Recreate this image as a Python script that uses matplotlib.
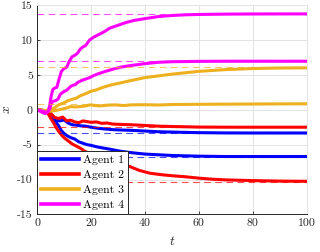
import numpy as np
import matplotlib
matplotlib.use("Agg")
import matplotlib.pyplot as plt

plt.rcParams['font.family'] = ['cmr10', 'DejaVu Serif']
plt.rcParams['mathtext.fontset'] = 'cm'
plt.rcParams['axes.unicode_minus'] = False

# agent 1 (blue)
t_a1_hi = [0, 2, 4, 5, 6, 7, 8.5, 10, 11.5, 13, 14.5, 16, 18, 20, 22.5, 25, 28, 31, 35, 40, 45, 50, 60, 70, 80, 90, 100]
x_a1_hi = [0, -0.1, -0.4, -0.7, -1.1, -1.5, -1.6, -1.45, -1.9, -2.15, -2.2, -2.3, -2.35, -2.5, -2.65, -2.75, -2.85, -2.9,
           -2.95, -3.05, -3.15, -3.2, -3.28, -3.32, -3.33, -3.33, -3.33]
t_a1_lo = [0, 2, 4, 5, 6, 7, 8, 9, 10, 11, 12.5, 14, 15.5, 17, 18.5, 20, 22, 24, 27, 31, 35, 40, 45, 50, 60, 70, 80, 90, 100]
x_a1_lo = [0, -0.1, -0.45, -0.8, -1.3, -1.8, -2.3, -3.0, -3.4, -3.7, -4.0, -4.2, -4.6, -4.8, -5.0, -5.1, -5.3, -5.45,
           -5.65, -5.95, -6.15, -6.35, -6.45, -6.55, -6.65, -6.7, -6.7, -6.7, -6.7]

# agent 2 (red)
t_a2_hi = [0, 2, 4, 5, 6.5, 8, 9.5, 11, 12.5, 14, 15.5, 17, 18.5, 20, 22, 24, 26, 28, 31, 35, 40, 45, 50, 60, 70, 80, 90, 100]
x_a2_hi = [0, -0.1, -0.3, -0.5, -1.1, -1.25, -1.05, -1.6, -1.5, -1.75, -1.85, -1.6, -1.7, -1.8, -1.75, -1.95, -1.9, -2.05,
           -2.1, -2.15, -2.25, -2.35, -2.4, -2.48, -2.5, -2.5, -2.5, -2.5]
t_a2_lo = [0, 2, 4, 5, 6, 7, 8, 9, 10, 11, 12, 13, 14.5, 16, 17.5, 19, 21, 24, 27, 31, 34.5, 38, 42, 46, 50, 55, 60, 65,
           70, 80, 90, 100]
x_a2_lo = [0, -0.1, -0.5, -1.2, -1.8, -2.5, -3.1, -3.6, -4.0, -4.3, -4.6, -4.9, -5.2, -5.5, -5.9, -6.2, -6.5, -6.9, -7.3,
           -7.8, -8.15, -8.7, -9.1, -9.3, -9.45, -9.6, -9.8, -9.95, -10.05, -10.15, -10.22, -10.25]

# agent 3 (orange)
t_a3_hi = [0, 3, 5, 6.5, 8, 10, 11.5, 13, 14.5, 16, 18, 20, 22, 24, 26, 28, 31, 35, 40, 45, 50, 55, 60, 70, 80, 90, 100]
x_a3_hi = [0, -0.1, 0, 0.3, 0.7, 1.0, 1.3, 1.5, 1.65, 2.0, 2.3, 2.65, 2.85, 3.15, 3.4, 3.6, 3.85, 4.2, 4.6, 4.85, 5.1,
           5.3, 5.5, 5.75, 5.9, 5.98, 6.0]
t_a3_lo = [0, 3, 5, 7, 8.7, 10.5, 12.3, 14, 16, 18, 19.7, 21.5, 23.4, 26, 29, 32, 35, 40, 45, 50, 60, 70, 80, 90, 100]
x_a3_lo = [0, -0.15, -0.2, -0.1, 0.05, 0.2, 0.45, 0.4, 0.45, 0.55, 0.7, 0.6, 0.55, 0.65, 0.7, 0.6, 0.7, 0.72, 0.68, 0.75,
           0.78, 0.8, 0.82, 0.84, 0.85]

# agent 4 (magenta)
t_a4_hi = [0, 1, 2, 3, 4, 4.6, 5.2, 5.8, 6.5, 7.3, 8, 9, 10, 11, 12, 13, 14, 15, 16, 17, 18, 19.5, 21, 23, 25, 27, 30, 33,
           36, 40, 45, 50, 55, 60, 70, 80, 90, 100]
x_a4_hi = [0, -0.2, -0.4, -0.55, -0.3, 0.5, 1.9, 2.9, 3.1, 3.2, 4.2, 5.5, 5.9, 6.1, 7.0, 7.6, 7.8, 8.1, 8.7, 9.0, 9.2, 10.0,
           10.4, 10.8, 11.2, 11.7, 12.1, 12.5, 12.8, 13.05, 13.35, 13.5, 13.6, 13.65, 13.7, 13.72, 13.73, 13.73]
t_a4_lo = [0, 2, 3.5, 4.6, 5.2, 5.8, 6.8, 7.7, 8.6, 9.5, 10.5, 11.3, 12.3, 13.2, 14.2, 15, 16.5, 18, 19.5, 21, 23, 25, 28,
           31, 35, 40, 45, 50, 60, 70, 80, 90, 100]
x_a4_lo = [0, -0.2, -0.4, 0, 0.8, 1.2, 1.3, 1.5, 2.2, 2.5, 2.7, 2.9, 3.3, 3.5, 3.6, 3.9, 4.2, 4.4, 4.6, 4.9, 5.2, 5.45,
           5.8, 6.1, 6.35, 6.6, 6.8, 6.88, 6.93, 6.95, 6.95, 6.95, 6.95]

# reference values (dashed)
ref_a1 = [-3.33, -6.7]
ref_a2 = [-2.43, -10.3]
ref_a3 = [6.14, 0.86]
ref_a4 = [13.7, 6.95]

labels = ['Agent 1', 'Agent 2', 'Agent 3', 'Agent 4']
colors = ['#0000ff', '#ff0000', '#edb120', '#ff00ff']

fig = plt.figure(figsize=(3.2, 2.52), dpi=100)
ax = fig.add_axes([0.116, 0.149, 0.842, 0.831])

curves = [(t_a1_hi, x_a1_hi, t_a1_lo, x_a1_lo),
          (t_a2_hi, x_a2_hi, t_a2_lo, x_a2_lo),
          (t_a3_hi, x_a3_hi, t_a3_lo, x_a3_lo),
          (t_a4_hi, x_a4_hi, t_a4_lo, x_a4_lo)]
refs = [ref_a1, ref_a2, ref_a3, ref_a4]

handles = []
for (th, xh, tl, xl), c, lab in zip(curves, colors, labels):
    h, = ax.plot(th, xh, color=c, lw=2.2, label=lab, solid_joinstyle='round')
    ax.plot(tl, xl, color=c, lw=2.2, solid_joinstyle='round')
    handles.append(h)

for r, c in zip(refs, colors):
    for v in r:
        ax.axhline(v, color=c, lw=0.8, ls=(0, (6, 4)), alpha=0.7)

ax.set_xlim(0, 100)
ax.set_ylim(-15, 15)
ax.set_xticks([0, 20, 40, 60, 80, 100])
ax.set_yticks([-15, -10, -5, 0, 5, 10, 15])
ax.grid(True, color='#e3e3e3', lw=0.7)
ax.set_axisbelow(True)
ax.tick_params(direction='in', length=2.5, width=0.6, labelsize=8.5, colors='#262626', pad=3)
for s in ['left', 'bottom']:
    ax.spines[s].set_color('#262626')
    ax.spines[s].set_linewidth(0.7)
for s in ['top', 'right']:
    ax.spines[s].set_color('#e3e3e3')
    ax.spines[s].set_linewidth(0.7)

ax.set_xlabel('$t$', fontsize=10, color='#262626', labelpad=5)
ax.set_ylabel('$x$', fontsize=10, color='#262626', labelpad=3)

leg = ax.legend(handles=handles, loc='lower left', borderaxespad=0, fontsize=8.5, handlelength=3.2,
                handletextpad=0.35, labelspacing=0.4, borderpad=0.35, fancybox=False, framealpha=1)
leg.get_frame().set_edgecolor('#262626')
leg.get_frame().set_linewidth(0.7)
for ln in leg.get_lines():
    ln.set_linewidth(2.6)

fig.savefig('out.png', dpi=100)
